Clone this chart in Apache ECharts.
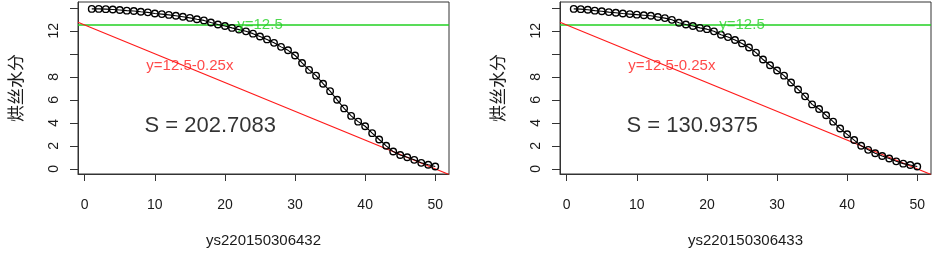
<!DOCTYPE html>
<html>
<head>
<meta charset="utf-8">
<script src="https://cdn.jsdelivr.net/npm/echarts@6/dist/echarts.min.js"></script>
<style>
html,body{margin:0;padding:0;background:#fff;}
#c{width:937px;height:263px;}
</style>
</head>
<body>
<div id="c"></div>
<script>
// ---- data ----
const xValues = [1,2,3,4,5,6,7,8,9,10,11,12,13,14,15,16,17,18,19,20,21,22,23,24,25,26,27,28,29,30,31,32,33,34,35,36,37,38,39,40,41,42,43,44,45,46,47,48,49,50];
const moistureA = [13.9,13.9,13.88,13.85,13.8,13.75,13.72,13.65,13.6,13.5,13.45,13.38,13.3,13.22,13.12,13.0,12.9,12.72,12.55,12.42,12.25,12.1,11.95,11.75,11.5,11.25,10.95,10.6,10.3,9.85,9.2,8.6,8.1,7.4,6.75,6.0,5.25,4.6,4.1,3.7,3.1,2.55,2.0,1.5,1.2,1.0,0.78,0.52,0.35,0.2];
const moistureB = [13.9,13.88,13.83,13.75,13.7,13.62,13.57,13.5,13.45,13.4,13.35,13.3,13.2,13.1,12.95,12.7,12.55,12.42,12.25,12.14,11.95,11.65,11.45,11.2,10.9,10.55,10.1,9.5,9.0,8.55,8.1,7.5,6.9,6.3,5.6,5.2,4.65,4.1,3.5,3.0,2.5,2.0,1.65,1.35,1.12,0.9,0.65,0.45,0.33,0.2];
const sampleNames = ["ys220150306432","ys220150306433"];
const areaLabels = ["S = 202.7083","S = 130.9375"];
const yAxisTitle = "烘丝水分";
const xTicks = [0,10,20,30,40,50];
const yTicks = [0,2,4,6,8,10,12,14];
const yTickLabels = [0,2,4,6,8,12];
const hLineY = 12.5;
const lineIntercept = 12.5, lineSlope = -0.25;
const hLineText = "y=12.5";
const slopeText = "y=12.5-0.25x";
const xRange = [-0.96, 51.96];
const yRange = [-0.45, 14.5];

// ---- chart ----
const FONT = "'Liberation Sans', Arial, 'Noto Sans CJK SC', sans-serif";
const TXT = '#1a1a1a';
const grids = [
  {left: 78, top: 2, width: 371, height: 172},
  {left: 560, top: 2, width: 371, height: 172}
];
const xAxes = [], yAxes = [], series = [];
const datasets = [moistureA, moistureB];

grids.forEach((g, i) => {
  g.show = true; g.borderColor = '#333'; g.borderWidth = 1; g.backgroundColor = 'transparent';
  xAxes.push({
    type: 'value', gridIndex: i, min: xRange[0], max: xRange[1],
    name: sampleNames[i], nameLocation: 'middle', nameGap: 59,
    nameTextStyle: {fontFamily: FONT, fontSize: 15, color: TXT},
    axisLine: {show: true, onZero: false, lineStyle: {color: '#333', width: 1}},
    axisTick: {show: true, inside: false, length: 7, customValues: xTicks, lineStyle: {color: '#333'}},
    axisLabel: {show: true, margin: 24, fontFamily: FONT, fontSize: 14, color: TXT, customValues: xTicks},
    splitLine: {show: false}
  });
  yAxes.push({
    type: 'value', gridIndex: i, min: yRange[0], max: yRange[1],
    name: yAxisTitle, nameLocation: 'middle', nameGap: 52, nameRotate: 90,
    nameTextStyle: {fontFamily: FONT, fontSize: 17, color: TXT},
    axisLine: {show: true, onZero: false, lineStyle: {color: '#333', width: 1}},
    axisTick: {show: true, inside: false, length: 8, customValues: yTicks, lineStyle: {color: '#333'}},
    axisLabel: {show: true, rotate: 90, margin: 17, fontFamily: FONT, fontSize: 14, color: TXT, customValues: yTickLabels},
    splitLine: {show: false}
  });
  // green horizontal line
  series.push({
    type: 'line', xAxisIndex: i, yAxisIndex: i, silent: true, symbol: 'none',
    data: [[xRange[0], hLineY], [xRange[1], hLineY]],
    lineStyle: {color: '#22d022', width: 1.3}, z: 2
  });
  // red line y = a + b x
  series.push({
    type: 'line', xAxisIndex: i, yAxisIndex: i, silent: true, symbol: 'none',
    data: [[xRange[0], lineIntercept + lineSlope * xRange[0]], [xRange[1], lineIntercept + lineSlope * xRange[1]]],
    lineStyle: {color: '#ff1a1a', width: 1.2}, z: 2
  });
  // moisture curve
  series.push({
    type: 'line', xAxisIndex: i, yAxisIndex: i, silent: true,
    data: xValues.map((x, k) => [x, datasets[i][k]]),
    symbol: 'circle', symbolSize: 6.5, showAllSymbol: true,
    itemStyle: {color: 'rgba(255,255,255,0)', borderColor: '#000', borderWidth: 1.4},
    lineStyle: {color: '#000', width: 1.1}, z: 3
  });
  // text annotations
  const txt = (x, y, s, color, size) => series.push({
    type: 'scatter', xAxisIndex: i, yAxisIndex: i, silent: true, symbolSize: 1,
    itemStyle: {color: 'transparent'},
    data: [[x, y]],
    label: {show: true, position: 'inside', formatter: s, color: color, fontSize: size, fontFamily: FONT, textBorderWidth: 0},
    z: 4
  });
  txt(25, hLineY, hLineText, '#22d022', 15);
  txt(15, 8.95, slopeText, '#ff1a1a', 15);
  txt(17.9, 3.72, areaLabels[i], '#000', 22);
});

const chart = echarts.init(document.getElementById('c'), null, {renderer: 'canvas'});
chart.setOption({
  animation: false,
  backgroundColor: '#fff',
  grid: grids, xAxis: xAxes, yAxis: yAxes, series: series
});
</script>
</body>
</html>
